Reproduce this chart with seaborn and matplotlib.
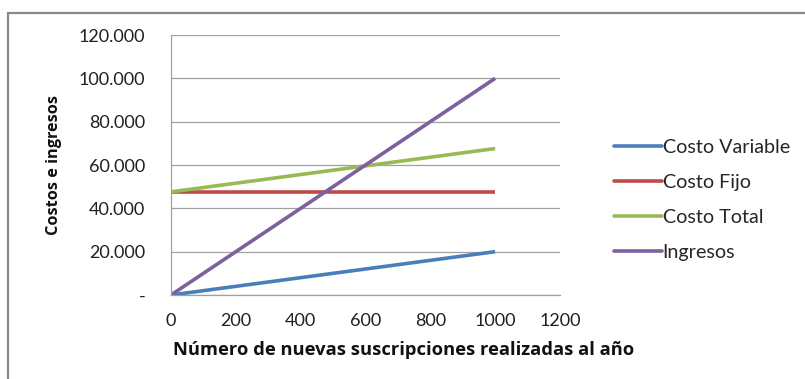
import numpy as np
import pandas as pd
import seaborn as sns
import matplotlib
matplotlib.use("Agg")
import matplotlib.pyplot as plt
from matplotlib.lines import Line2D
from matplotlib.ticker import FuncFormatter, MultipleLocator

unidades = [0, 200, 400, 600, 800, 1000]
costo_variable = [0, 4000, 8000, 12000, 16000, 20000]
costo_fijo = [47600, 47600, 47600, 47600, 47600, 47600]
costo_total = [47600, 51600, 55600, 59600, 63600, 67600]
ingresos = [0, 20000, 40000, 60000, 80000, 100000]
series_names = ["Costo Variable", "Costo Fijo", "Costo Total", "Ingresos"]
colors = ["#4A7EBB", "#BE4B48", "#98B954", "#7D60A0"]

df = pd.DataFrame({
    "x": unidades * 4,
    "y": costo_variable + costo_fijo + costo_total + ingresos,
    "serie": sum([[n] * len(unidades) for n in series_names], []),
})

sns.set_theme(style="white")
plt.rcParams["font.family"] = ["Lato", "DejaVu Sans"]

fig = plt.figure(figsize=(8.05, 3.79), dpi=100)
ax = fig.add_axes([171 / 805, 1 - 295 / 379, (560 - 171) / 805, (295 - 35) / 379])

sns.lineplot(data=df, x="x", y="y", hue="serie", palette=colors,
             hue_order=series_names, linewidth=2.6, ax=ax, legend=False,
             solid_capstyle="butt")

ax.set_xlim(0, 1200)
ax.set_ylim(0, 120000)
ax.xaxis.set_major_locator(MultipleLocator(200))
ax.yaxis.set_major_locator(MultipleLocator(20000))
ax.yaxis.set_major_formatter(FuncFormatter(
    lambda v, p: "-" if v == 0 else f"{int(v):,}".replace(",", ".")))
ax.grid(axis="y", color="#A0A0A0", linewidth=0.9)
ax.set_axisbelow(True)
for s in ["top", "right"]:
    ax.spines[s].set_visible(False)
for s in ["left", "bottom"]:
    ax.spines[s].set_color("#A0A0A0")
    ax.spines[s].set_linewidth(0.9)
ax.tick_params(axis="both", which="major", width=0.9, color="#A0A0A0",
               labelsize=13, labelcolor="#202020", direction="out")
ax.tick_params(axis="y", length=6.5, pad=12)
ax.tick_params(axis="x", length=4, pad=9)

ax.set_xlabel("Número de nuevas suscripciones realizadas al año",
              fontsize=13.2, fontweight="bold",
              family=["Open Sans", "DejaVu Sans"], color="#111111")
ax.xaxis.set_label_coords((404 - 171) / 389, -(350 - 295) / 260, transform=ax.transAxes)
ax.xaxis.label.set_va("center")
ax.set_ylabel("Costos e ingresos", fontsize=11.7, fontweight="bold", labelpad=12,
              family=["Open Sans", "DejaVu Sans"], color="#111111")

handles = [Line2D([0], [0], color=c, linewidth=2.6) for c in colors]
fig.legend(handles, series_names, loc="center left",
           bbox_to_anchor=(614 / 805, 1 - 200 / 379), frameon=False,
           fontsize=14.2, handlelength=2.45, handletextpad=0.02,
           labelspacing=0.9, borderaxespad=0, borderpad=0)

# Outer chart frame (top and left visible)
fig.add_artist(Line2D([8 / 805, 1.0], [1 - 13 / 379, 1 - 13 / 379],
                      color="#888888", linewidth=1.6, transform=fig.transFigure))
fig.add_artist(Line2D([8 / 805, 8 / 805], [0, 1 - 13 / 379],
                      color="#888888", linewidth=1.6, transform=fig.transFigure))

fig.savefig("out.png", dpi=100, facecolor="white")
